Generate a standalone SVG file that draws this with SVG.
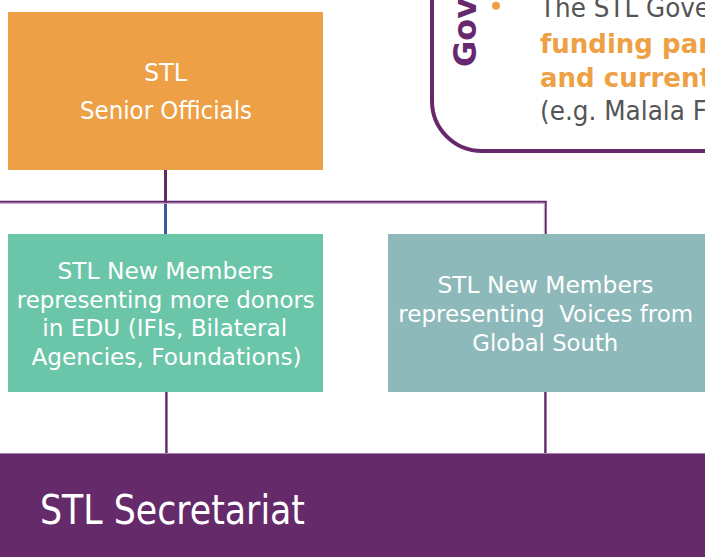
<svg xmlns="http://www.w3.org/2000/svg" width="705" height="557" viewBox="0 0 705 557">
<style>
.bt{font-family:"DejaVu Sans","Liberation Sans",sans-serif;fill:#ffffff;text-anchor:middle}
.gt{font-family:"DejaVu Sans","Liberation Sans",sans-serif;font-size:26px}
.gray{fill:#555555}
.or{fill:#eea045;font-weight:bold}
.conn{stroke:#62296b;fill:none}
</style>
<rect width="705" height="557" fill="#ffffff"/>
<g id="governance">
<path d="M432 -10 V101 A50 50 0 0 0 482 151 H715" fill="none" stroke="#65296b" stroke-width="4"/>
<text transform="translate(476 67) rotate(-90)" font-family="DejaVu Sans, Liberation Sans, sans-serif" font-size="32" font-weight="bold" fill="#67296d">Gov</text>
<circle cx="496" cy="5.7" r="4" fill="#eea045"/>
<text class="gt gray" x="540" y="17.3" textLength="170" lengthAdjust="spacingAndGlyphs">The STL Gove</text>
<text class="gt or" x="540" y="52.7">funding par</text>
<text class="gt or" x="540" y="86.5">and current</text>
<text class="gt gray" x="540" y="120" textLength="167" lengthAdjust="spacingAndGlyphs">(e.g. Malala F</text>
</g>
<g id="connectors">
<line class="conn" x1="165.5" y1="170" x2="165.5" y2="202" stroke-width="3"/>
<line x1="165.5" y1="202" x2="165.5" y2="234" stroke="#3b58a0" stroke-width="3"/>
<line class="conn" x1="0" y1="201.8" x2="546.5" y2="201.8" stroke-width="2"/>
<line x1="0" y1="203.4" x2="544" y2="203.4" stroke="#c6a6ca" stroke-width="1"/>
<line class="conn" x1="545.7" y1="201" x2="545.7" y2="234" stroke-width="2"/>
<line x1="544.3" y1="203" x2="544.3" y2="234" stroke="#c6a6ca" stroke-width="1"/>
<line class="conn" x1="166.4" y1="391" x2="166.4" y2="454" stroke-width="2.4"/>
<line class="conn" x1="545.4" y1="391" x2="545.4" y2="454" stroke-width="2.4"/>
</g>
<g id="senior-officials">
<rect x="8" y="12" width="315" height="158" fill="#eda045"/>
<text class="bt" font-size="24" x="165.5" y="80.7" textLength="43" lengthAdjust="spacingAndGlyphs">STL</text>
<text class="bt" font-size="24" x="166" y="119.3" textLength="172" lengthAdjust="spacingAndGlyphs">Senior Officials</text>
</g>
<g id="new-members-donors">
<rect x="8" y="234" width="315" height="158" fill="#6bc5a8"/>
<text class="bt" font-size="23" x="165.5" y="279.3" textLength="216" lengthAdjust="spacingAndGlyphs">STL New Members</text>
<text class="bt" font-size="23" x="165.8" y="307.7" textLength="298" lengthAdjust="spacingAndGlyphs">representing more donors</text>
<text class="bt" font-size="23" x="164.8" y="336.2" textLength="245" lengthAdjust="spacingAndGlyphs">in EDU (IFIs, Bilateral</text>
<text class="bt" font-size="23" x="166.5" y="364.8" textLength="270" lengthAdjust="spacingAndGlyphs">Agencies, Foundations)</text>
</g>
<g id="new-members-south">
<rect x="388" y="234" width="320" height="158" fill="#8db9ba"/>
<text class="bt" font-size="23" x="545.5" y="293.3" textLength="216" lengthAdjust="spacingAndGlyphs">STL New Members</text>
<text class="bt" font-size="23" x="545.8" y="322.3" textLength="295" lengthAdjust="spacingAndGlyphs" xml:space="preserve">representing  Voices from</text>
<text class="bt" font-size="23" x="545.3" y="350.7" textLength="146" lengthAdjust="spacingAndGlyphs">Global South</text>
</g>
<g id="secretariat">
<rect x="0" y="453" width="705" height="104" fill="#652a6a"/>
<line x1="0" y1="453.5" x2="705" y2="453.5" stroke="#a584ab" stroke-width="1"/>
<text font-family="DejaVu Sans, Liberation Sans, sans-serif" font-size="40" fill="#ffffff" x="40" y="524" textLength="265" lengthAdjust="spacingAndGlyphs">STL Secretariat</text>
</g>
</svg>
